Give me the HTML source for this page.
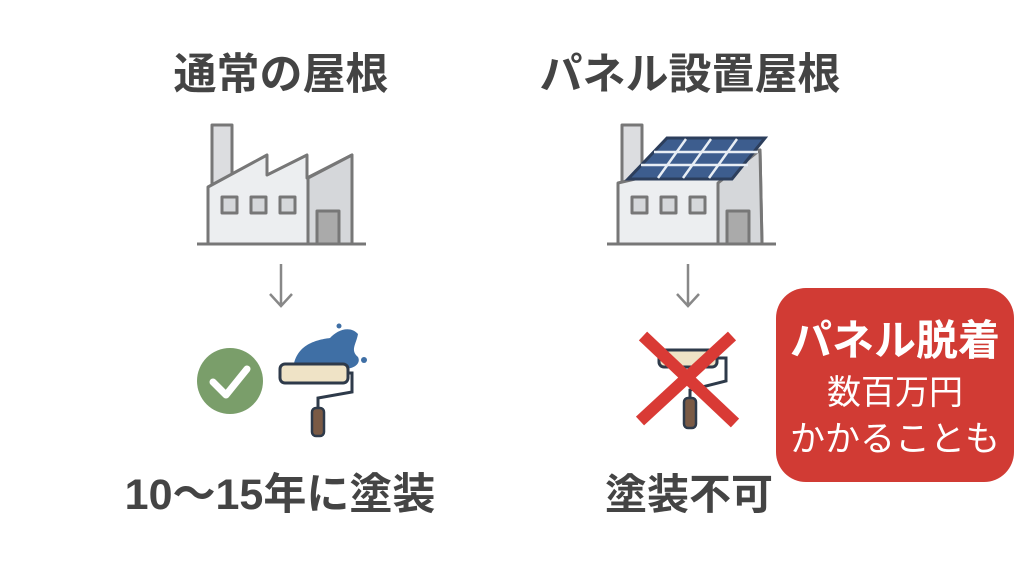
<!DOCTYPE html>
<html><head><meta charset="utf-8"><style>
body{margin:0;width:1024px;height:576px;background:#fff;overflow:hidden;position:relative;font-family:"Liberation Sans","Noto Sans CJK JP",sans-serif;}
.t{position:absolute;font-weight:bold;color:#444;text-align:center;white-space:nowrap;line-height:60px}
</style></head><body>
<div class="t" style="left:131px;width:300px;top:45px;font-size:43px">通常の屋根</div>
<div class="t" style="left:490px;width:400px;top:45px;font-size:43px">パネル設置屋根</div>
<div class="t" style="left:80px;width:400px;top:465px;font-size:43px">10〜15年に塗装</div>
<div class="t" style="left:539px;width:300px;top:465px;font-size:42px">塗装不可</div>
<svg width="1024" height="576" style="position:absolute;left:0;top:0">
<g stroke="#777" stroke-width="3" stroke-linejoin="round">
 <rect x="212" y="125" width="20" height="65" fill="#dcdde0"/>
 <polygon points="208,187 267,155 267,175 307,155 307,178 352,155 352,244 208,244" fill="#eceef0"/>
 <polygon points="308,178 352,155 352,244 308,244" fill="#d5d7da"/>
 <rect x="222" y="197" width="15" height="16" fill="#d5d7da"/>
 <rect x="251" y="197" width="15" height="16" fill="#d5d7da"/>
 <rect x="280" y="197" width="15" height="16" fill="#d5d7da"/>
 <rect x="317" y="211" width="22" height="33" fill="#aaa"/>
 <line x1="197" y1="244" x2="366" y2="244"/>
 <rect x="622" y="125" width="20" height="65" fill="#dcdde0"/>
 <polygon points="618,183 760,150 762,244 618,244" fill="#eceef0"/>
 <polygon points="718,183 760,150 762,244 718,244" fill="#d5d7da"/>
 <rect x="632" y="197" width="15" height="16" fill="#d5d7da"/>
 <rect x="661" y="197" width="15" height="16" fill="#d5d7da"/>
 <rect x="690" y="197" width="15" height="16" fill="#d5d7da"/>
 <rect x="727" y="211" width="22" height="33" fill="#aaa"/>
 <line x1="607" y1="244" x2="776" y2="244"/>
</g>
<polygon points="628,179 667,138 765,138 732,179" fill="#3d5d8e" stroke="#2c3e5c" stroke-width="3"/>
<g stroke="#e8eef5" stroke-width="2.5">
 <line x1="641" y1="165" x2="748" y2="165"/><line x1="654" y1="152" x2="758" y2="152"/>
 <line x1="686" y1="139" x2="658" y2="178"/><line x1="711" y1="139" x2="683" y2="178"/><line x1="737" y1="139" x2="709" y2="178"/>
</g>
<g stroke="#888" stroke-width="2.5" fill="none">
 <path d="M281 264V306M270 294L281 306L292 294"/>
 <path d="M688 264V306M677 294L688 306L699 294"/>
</g>
<circle cx="230" cy="381" r="33" fill="#7a9e6a"/>
<path d="M213 382L226 395L247 369" stroke="#fff" stroke-width="7" fill="none" stroke-linecap="round" stroke-linejoin="round"/>
<path d="M293 370C295 345 315 340 330 338C337 330 350 325 358 334C356 345 350 350 358 357C362 365 350 370 345 368L340 382L292 382Z" fill="#3f6fa5"/>
<circle cx="339" cy="326" r="2.5" fill="#3f6fa5"/><circle cx="364" cy="360" r="3" fill="#3f6fa5"/>
<rect x="280" y="364" width="68" height="19" rx="5" fill="#efe3c6" stroke="#2e3a4a" stroke-width="3"/>
<path d="M348 373H352V392L318 398V408" stroke="#2e3a4a" stroke-width="3" fill="none"/>
<rect x="312" y="408" width="12" height="28" rx="4" fill="#7a5a45" stroke="#2e3a4a" stroke-width="2.5"/>
<rect x="659" y="350" width="58" height="17" rx="5" fill="#efe3c6" stroke="#2e3a4a" stroke-width="3"/>
<path d="M717 358H726V381L690 390V398" stroke="#2e3a4a" stroke-width="3" fill="none"/>
<rect x="684" y="398" width="12" height="30" rx="4" fill="#7a5a45" stroke="#2e3a4a" stroke-width="2.5"/>
<g stroke="#d93a35" stroke-width="12"><line x1="643" y1="336" x2="735" y2="423"/><line x1="732" y1="336" x2="640" y2="421"/></g>
<rect x="776" y="288" width="238" height="194" rx="30" fill="#d13b34"/>
<text x="895" y="355" fill="#fff" font-size="42" font-weight="bold" text-anchor="middle" font-family="Liberation Sans, Noto Sans CJK JP, sans-serif">パネル脱着</text>
<text x="895" y="404" fill="#fff" font-size="34" text-anchor="middle" font-family="Liberation Sans, Noto Sans CJK JP, sans-serif">数百万円</text>
<text x="895" y="451" fill="#fff" font-size="35" text-anchor="middle" font-family="Liberation Sans, Noto Sans CJK JP, sans-serif">かかることも</text>
</svg>
</body></html>
